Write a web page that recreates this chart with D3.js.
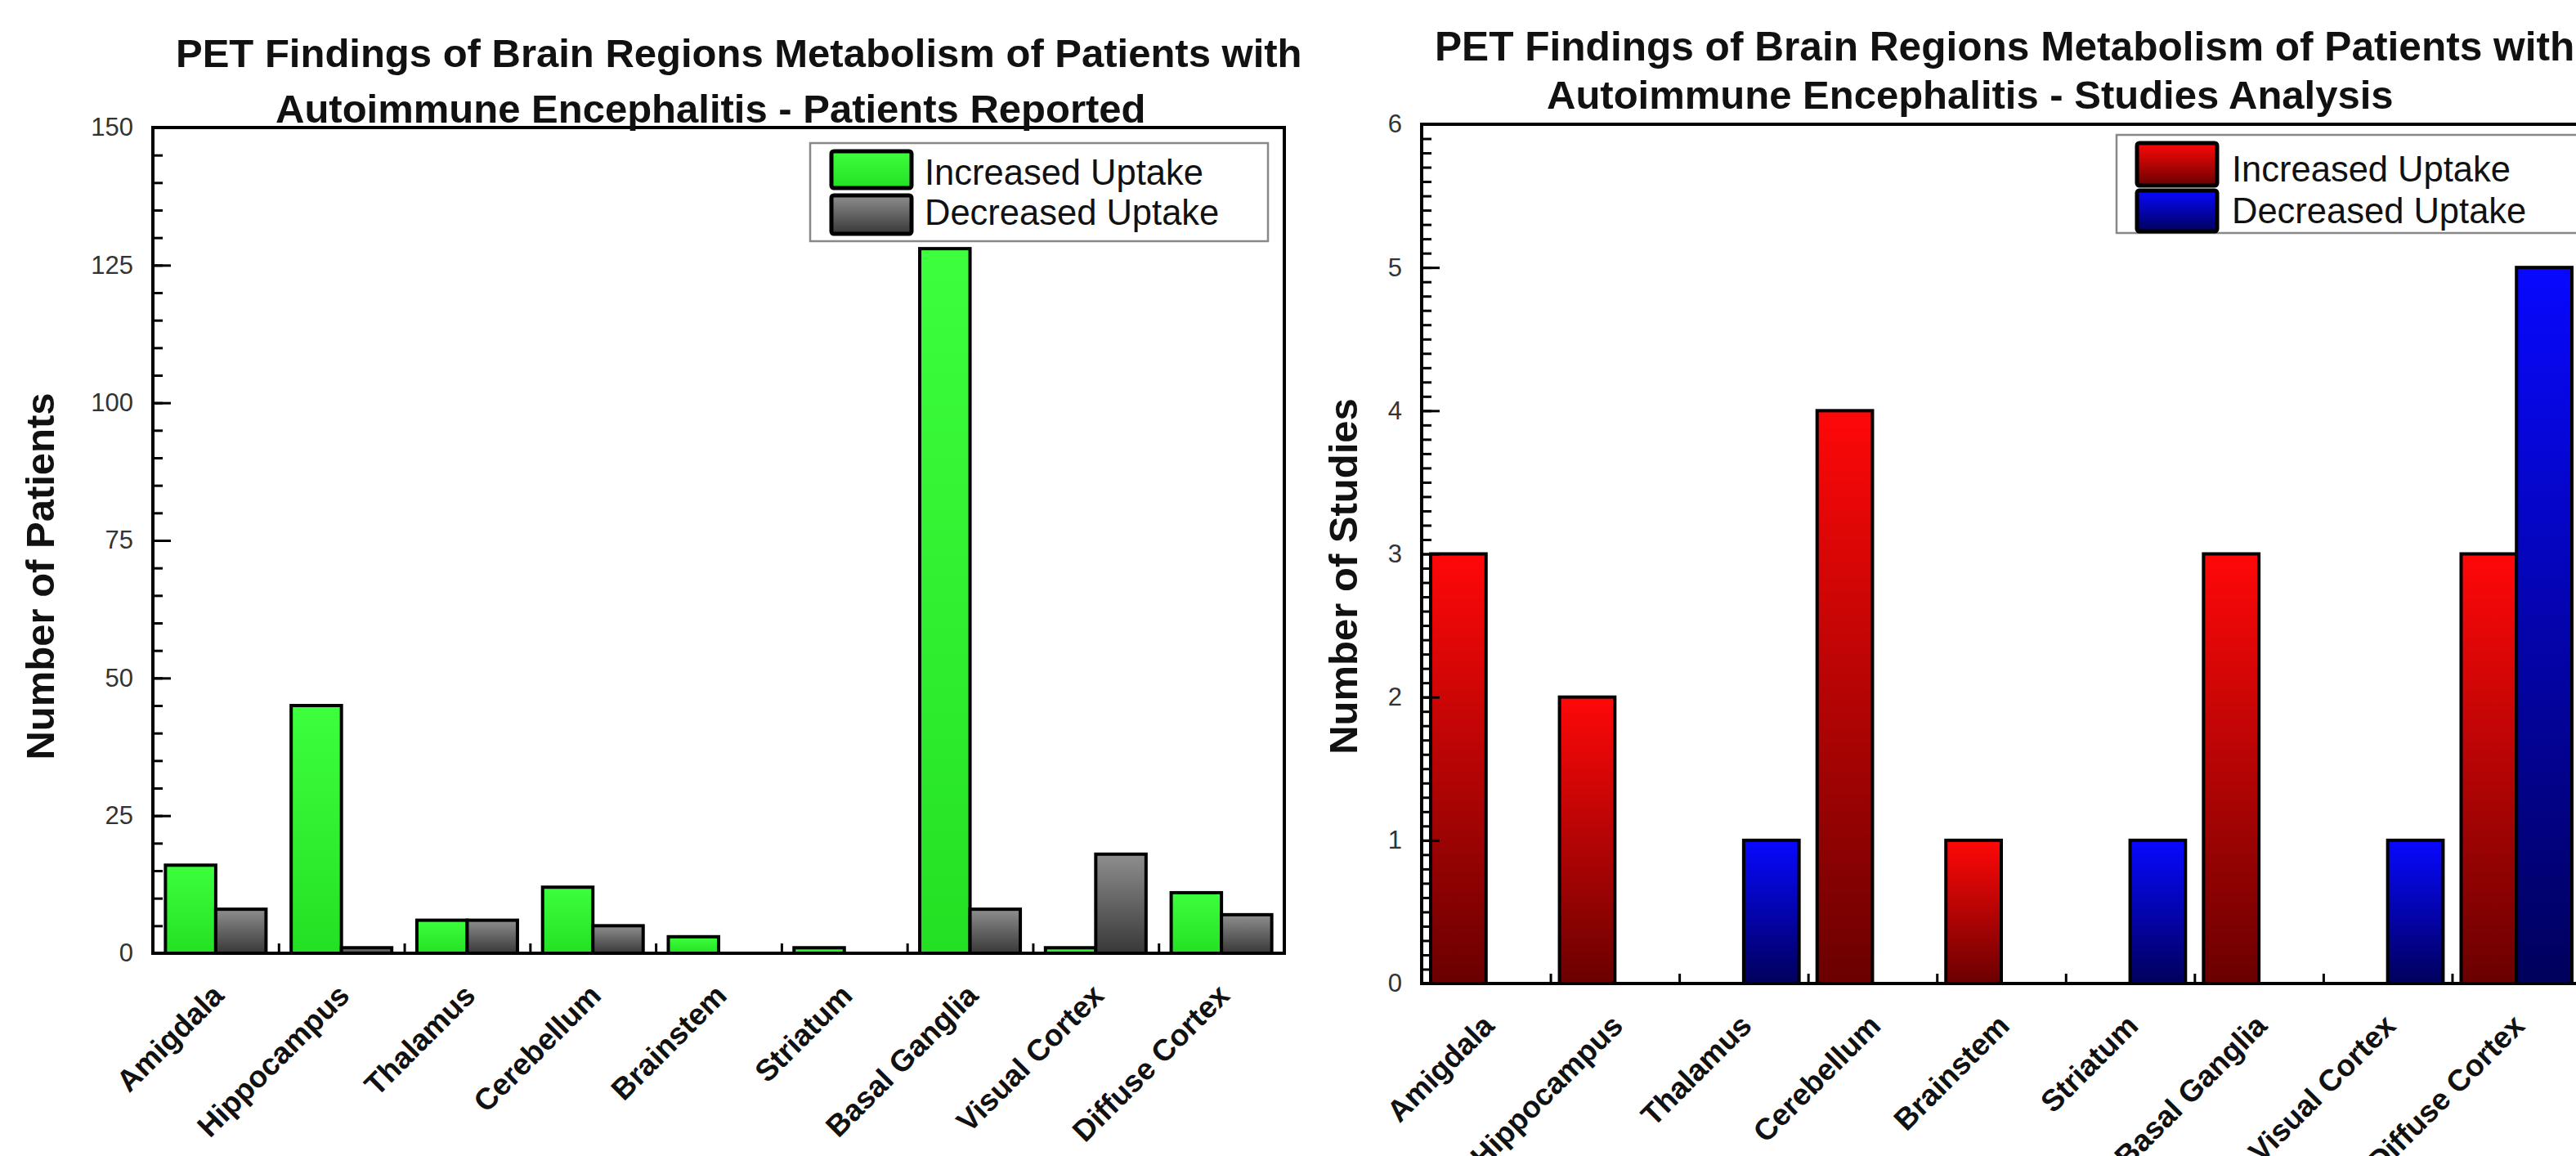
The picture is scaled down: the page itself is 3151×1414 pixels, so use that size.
<!DOCTYPE html>
<html><head><meta charset="utf-8">
<script src="https://cdn.jsdelivr.net/npm/d3@7"></script>
<style>
html,body{margin:0;padding:0;background:#fff;}
svg{display:block;}
text{font-family:"Liberation Sans", Arial, sans-serif;}
</style></head><body>
<svg id="c" width="3151" height="1414"></svg>
<script>
const categories = ["Amigdala","Hippocampus","Thalamus","Cerebellum","Brainstem","Striatum","Basal Ganglia","Visual Cortex","Diffuse Cortex"];
const seriesNames = ["Increased Uptake","Decreased Uptake"];
const patientsIncreased = [16,45,6,12,3,1,128,1,11];
const patientsDecreased = [8,1,6,5,0,0,8,18,7];
const studiesIncreased = [3,2,0,4,1,0,3,0,3];
const studiesDecreased = [0,0,1,0,0,1,0,1,5];
const patientsTicks = [0,25,50,75,100,125,150];
const studiesTicks = [0,1,2,3,4,5,6];
const leftTitle = ["PET Findings of Brain Regions Metabolism of Patients with","Autoimmune Encephalitis - Patients Reported"];
const rightTitle = ["PET Findings of Brain Regions Metabolism of Patients with","Autoimmune Encephalitis - Studies Analysis"];
const leftYLabel = "Number of Patients";
const rightYLabel = "Number of Studies";

const svg = d3.select("#c");
svg.append("rect").attr("width",3151).attr("height",1414).attr("fill","#fff");
const defs = svg.append("defs");
function grad(id, top, bottom){
  const g = defs.append("linearGradient").attr("id",id).attr("x1",0).attr("y1",0).attr("x2",0).attr("y2",1);
  g.append("stop").attr("offset","0%").attr("stop-color",top);
  g.append("stop").attr("offset","100%").attr("stop-color",bottom);
}
grad("gGreen","#3dff3d","#24e024");
grad("gGray","#8e8e8e","#383838");
grad("gRed","#ff0808","#6a0000");
grad("gBlue","#0808ff","#00005c");

function drawChart(c){
  const g = svg.append("g");
  const x = d3.scaleBand().domain(categories).range([c.left, c.right]).paddingInner(0).paddingOuter(0);
  const y = d3.scaleLinear().domain([0, c.max]).range([c.bottom, c.top]);
  const bw = x.bandwidth() * c.barFrac;
  const rows = categories.map((k,i)=>({k, inc:c.inc[i], dec:c.dec[i]}));
  [["inc",-1,c.fills[0]],["dec",0,c.fills[1]]].forEach(([key,off,fill])=>{
    g.append("g").selectAll("rect").data(rows.filter(d=>d[key]>0)).join("rect")
      .attr("x", d=> x(d.k) + x.bandwidth()/2 + off*bw)
      .attr("y", d=> y(d[key]))
      .attr("width", bw)
      .attr("height", d=> y(0) - y(d[key]))
      .attr("fill", `url(#${fill})`)
      .attr("stroke","#000").attr("stroke-width",4);
  });
  // minor y ticks
  g.append("g").attr("transform",`translate(${c.left},0)`)
    .call(d3.axisLeft(y).tickValues(d3.range(0, c.max + 1e-9, c.minor)).tickSize(-12).tickFormat(""))
    .call(s=>{ s.select(".domain").remove(); s.selectAll("line").attr("stroke","#000").attr("stroke-width",3); });
  // major y ticks + labels
  g.append("g").attr("transform",`translate(${c.left},0)`)
    .call(d3.axisLeft(y).tickValues(c.ticks).tickSize(-22).tickPadding(24).tickFormat(d3.format("d")))
    .call(s=>{
      s.select(".domain").remove();
      s.selectAll("line").attr("stroke","#000").attr("stroke-width",3);
      s.selectAll("text").attr("font-size",31).attr("fill","#333").attr("font-family","Liberation Sans, Arial, sans-serif");
    });
  // x boundary ticks
  const xb = d3.scaleLinear().domain([0, categories.length]).range([c.left, c.right]);
  g.append("g").attr("transform",`translate(0,${c.bottom})`)
    .call(d3.axisBottom(xb).tickValues(d3.range(1, categories.length)).tickSize(-12).tickFormat(""))
    .call(s=>{ s.select(".domain").remove(); s.selectAll("line").attr("stroke","#000").attr("stroke-width",3); });
  // frame
  g.append("rect").attr("x",c.left).attr("y",c.top).attr("width",c.right-c.left).attr("height",c.bottom-c.top)
    .attr("fill","none").attr("stroke","#000").attr("stroke-width",4);
  // category labels
  g.append("g").selectAll("text").data(categories).join("text")
    .attr("transform", d=>`translate(${x(d)+x.bandwidth()/2+12},${c.bottom+54}) rotate(-45)`)
    .attr("text-anchor","end").attr("font-size",37).attr("font-weight","bold").attr("fill","#111")
    .text(d=>d);
  // titles
  c.title.forEach((t,i)=>{
    g.append("text").attr("x",c.titleX[i]).attr("y",c.titleY[i]).attr("font-size",c.titleSize[i])
      .attr("font-weight","bold").attr("fill","#111").text(t);
  });
  // y label
  g.append("text").attr("transform",`translate(${c.ylabX},${c.ylabY}) rotate(-90)`)
    .attr("text-anchor","middle").attr("font-size",49).attr("font-weight","bold").attr("fill","#111").text(c.ylabel);
  // legend
  const L = c.legend;
  g.append("rect").attr("x",L.x).attr("y",L.y).attr("width",L.w).attr("height",L.h)
    .attr("fill","#fff").attr("stroke","#888").attr("stroke-width",2.5);
  seriesNames.forEach((n,i)=>{
    g.append("rect").attr("x",L.sx).attr("y",L.sy[i]).attr("width",98).attr("height",L.sh[i]).attr("rx",3)
      .attr("fill",`url(#${c.fills[i]})`).attr("stroke","#000").attr("stroke-width",5);
    g.append("text").attr("x",L.tx).attr("y",L.ty[i]).attr("font-size",43.5).attr("fill","#111").text(n);
  });
}

drawChart({
  left:187, right:1571, top:156, bottom:1166, max:150, minor:5, ticks:patientsTicks, barFrac:0.40,
  inc:patientsIncreased, dec:patientsDecreased, fills:["gGreen","gGray"],
  title:leftTitle, titleX:[215,337], titleY:[82,150], titleSize:[49,49],
  ylabel:leftYLabel, ylabX:66, ylabY:705,
  legend:{x:991,y:175,w:560,h:120,sx:1017,sy:[185,239],sh:[45,47],tx:1131,ty:[226,275]}
});
drawChart({
  left:1739, right:3157, top:152, bottom:1203, max:6, minor:0.1, ticks:studiesTicks, barFrac:0.43,
  inc:studiesIncreased, dec:studiesDecreased, fills:["gRed","gBlue"],
  title:rightTitle, titleX:[1755,1892], titleY:[74,133], titleSize:[49.6,49],
  ylabel:rightYLabel, ylabX:1660, ylabY:705,
  legend:{x:2589,y:165,w:620,h:120,sx:2614,sy:[175,233],sh:[52,50],tx:2730,ty:[222,273]}
});
</script>
</body></html>
